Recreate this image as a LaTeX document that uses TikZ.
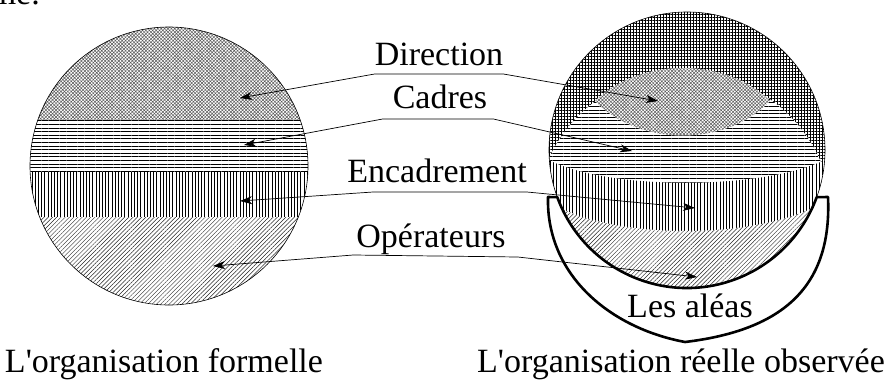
\documentclass[tikz,border=0pt]{standalone}
\usepackage{fontspec}
\setmainfont{Liberation Serif}
\usetikzlibrary{arrows.meta, patterns.meta}

\begin{document}
\begin{tikzpicture}[x=1pt, y=-1pt, >={Stealth[length=12pt, width=8pt, inset=3.5pt]},
    lbl/.style={font=\fontsize{34}{40}\selectfont, inner sep=0pt, anchor=base},
    lien/.style={<->, line width=0.7pt},
    blanc/.style={preaction={fill=white}},
    hDir/.style={blanc, pattern={Hatch[angle=45, distance=2.4pt, line width=0.5pt]}, pattern color=black!65},
    hGrid/.style={blanc, pattern={Hatch[angle=0, distance=3pt, line width=0.7pt]}},
    hCad/.style={blanc, pattern={Lines[angle=0, distance=3.6pt, line width=0.8pt]}},
    hEnc/.style={blanc, pattern={Lines[angle=90, distance=3.2pt, line width=0.7pt]}},
    hOpe/.style={blanc, pattern={Lines[angle=45, distance=3pt, line width=0.45pt]}, pattern color=black!85},
    epais/.style={line width=2.6pt, line join=round}]
  \useasboundingbox (0,0) rectangle (893,380);

  % l'organisation formelle
  \coordinate (formel) at (169,166);
  \begin{scope}
    \clip (formel) circle[radius=139];
    \path[hDir] (25,20) rectangle (315,120);
    \path[hCad] (25,120) rectangle (315,172);
    \path[hEnc] (25,172) rectangle (315,217);
    \path[hOpe] (25,217) rectangle (315,310);
  \end{scope}
  \draw[line width=0.6pt] (formel) circle[radius=139];

  % l'organisation reelle
  \coordinate (reel) at (687,150);
  \begin{scope}
    \clip (reel) circle[radius=138];
    \path[hGrid] (reel) circle[radius=138];
    \path[hCad] (684,221) circle[radius=149];
    \path[hEnc] (540,155) .. controls (595,192) and (775,192) .. (834,155) -- (834,300) -- (540,300) -- cycle;
    \path[hOpe] (540,195) .. controls (595,243) and (775,243) .. (834,195) -- (834,300) -- (540,300) -- cycle;
    \path[hDir] (595,101) .. controls (640,57) and (726,57) .. (770,101)
      .. controls (726,147) and (640,147) .. (595,101) -- cycle;
  \end{scope}
  \draw[line width=0.6pt] (reel) circle[radius=138];
  % les aleas
  \draw[epais] (548,197) -- (557.3,197.2) arc[start angle=160, end angle=20, radius=138]
    -- (828,197) .. controls (832,285) and (785,330) .. (685,342)
    .. controls (610,328) and (546,275) .. cycle;

  \node[lbl] (direction) at (439,65) {Direction};
  \node[lbl] (cadres) at (440,108) {Cadres};
  \node[lbl] (encadrement) at (437,182) {Encadrement};
  \node[lbl] (operateurs) at (431,247) {Opérateurs};
  \node[lbl] (aleas) at (690,317) {Les aléas};
  \node[lbl] (formelle) at (164,372) {L\textquotesingle organisation formelle};
  \node[lbl] (observee) at (681,372) {L\textquotesingle organisation réelle observée};
  \node[lbl, anchor=base east] (haut) at (40,5) {me.};

  \coordinate (fDir) at (240,98);
  \coordinate (rDir) at (658,101);
  \coordinate (fCad) at (244,145);
  \coordinate (rCad) at (632,151);
  \coordinate (fEnc) at (240,201);
  \coordinate (rEnc) at (695,208);
  \coordinate (fOpe) at (213,266);
  \coordinate (rOpe) at (697,277);

  % liaisons
  \draw[lien] (fDir) -- ([yshift=-9pt]direction.base west) -- ([yshift=-9pt]direction.base east) -- (rDir);
  \draw[lien] (fCad) -- ([xshift=-10pt, yshift=-11pt]cadres.base west) -- ([xshift=6pt, yshift=-11pt]cadres.base east) -- (rCad);
  \draw[lien] (fEnc) -- ([xshift=26pt, yshift=-10pt]encadrement.base west) -- ([yshift=-10pt]encadrement.base east) -- (rEnc);
  \draw[lien] (fOpe) -- ([xshift=-3pt, yshift=-8pt]operateurs.base west) -- ([xshift=12pt, yshift=-10pt]operateurs.base east) -- (rOpe);
\end{tikzpicture}
\end{document}
